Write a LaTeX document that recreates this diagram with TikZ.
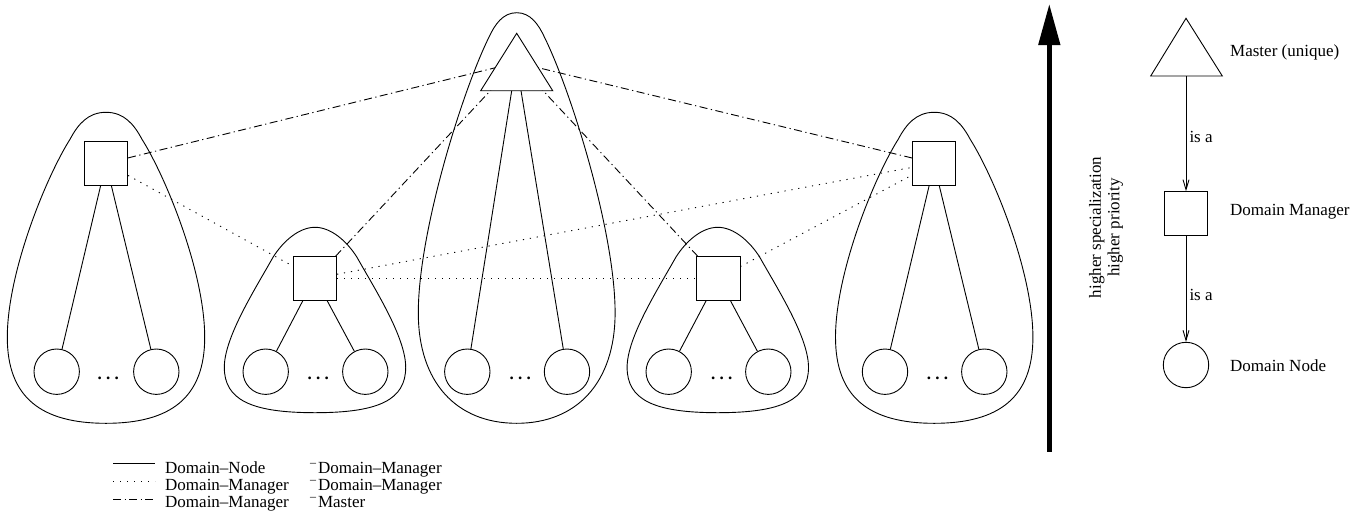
\documentclass[tikz,border=0pt]{standalone}
\usepackage{fontspec}
\setmainfont{Liberation Serif}
\usetikzlibrary{arrows.meta}
\newcommand\rdash{\raisebox{7pt}{\fontsize{12}{12}\selectfont --}\kern1.8pt}
\newcommand\tallblob[2]{\draw[ln,shift={(#1,#2)}] (0,0) .. controls (-18,0) and (-28,12) .. (-36,27) .. controls (-60,65) and (-98.7,160) .. (-98.7,225) .. controls (-98.7,285) and (-65,311) .. (0,311) .. controls (65,311) and (98.7,285) .. (98.7,225) .. controls (98.7,160) and (60,65) .. (36,27) .. controls (28,12) and (18,0) .. cycle;}
\newcommand\smallblob[2]{\draw[ln,shift={(#1,#2)}] (0,0) .. controls (-16,0) and (-32,14) .. (-42,30) .. controls (-60,62) and (-90.7,110) .. (-90.7,140) .. controls (-90.7,172) and (-65,185.4) .. (0,185.4) .. controls (65,185.4) and (90.7,172) .. (90.7,140) .. controls (90.7,110) and (60,62) .. (42,30) .. controls (32,14) and (16,0) .. cycle;}
\newcommand\masterblob[2]{\draw[ln,shift={(#1,#2)}] (0,0) .. controls (-14,0) and (-22,12) .. (-28,25) .. controls (-55,80) and (-98.4,220) .. (-98.4,300) .. controls (-98.4,370) and (-60,410.6) .. (0,410.6) .. controls (60,410.6) and (98.4,370) .. (98.4,300) .. controls (98.4,220) and (55,80) .. (28,25) .. controls (22,12) and (14,0) .. cycle;}
\tikzset{
  ln/.style={line width=0.9pt},
  mgr/.style={draw, ln, minimum size=43.3pt, inner sep=0pt},
  dnode/.style={draw, ln, circle, minimum size=45.4pt, inner sep=0pt},
  dmdm/.style={ln, dash pattern=on 1.2pt off 5.8pt},
  dmm/.style={ln, dash pattern=on 8pt off 3.5pt on 1.2pt off 3.5pt},
  isa/.style={ln, -{Straight Barb[length=10pt,width=6pt]}},
  lbl/.style={anchor=base west, inner sep=0pt, font=\fontsize{17}{20}\selectfont},
  dots/.style={anchor=base, inner sep=0pt, font=\fontsize{17}{20}\selectfont\bfseries},
}
\begin{document}
\begin{tikzpicture}[x=1pt,y=-1pt]
\useasboundingbox (0,0) rectangle (1365,522);

% blobs
\tallblob{106}{112.3}
\smallblob{315}{227.3}
\masterblob{516.7}{12.7}
\smallblob{717.8}{227.3}
\tallblob{934.2}{112.3}

% managers
\node[mgr] (s1) at (106,163.3) {};
\node[mgr] (s2) at (315,278.3) {};
\node[mgr] (s4) at (718.3,278.3) {};
\node[mgr] (s5) at (934.2,163.3) {};

% domain nodes
\node[dnode] (c1a) at (56.7,371.7) {};
\node[dnode] (c1b) at (156.3,371.7) {};
\node[dnode] (c2a) at (265.7,371.7) {};
\node[dnode] (c2b) at (365.3,371.7) {};
\node[dnode] (c3a) at (467.3,371.7) {};
\node[dnode] (c3b) at (567,371.7) {};
\node[dnode] (c4a) at (668.7,371.7) {};
\node[dnode] (c4b) at (768.3,371.7) {};
\node[dnode] (c5a) at (885,371.7) {};
\node[dnode] (c5b) at (984.3,371.7) {};

\node[dots] (d1) at (108.3,379) {.\ .\ .};
\node[dots] (d2) at (318.3,379) {.\ .\ .};
\node[dots] (d3) at (520.3,379) {.\ .\ .};
\node[dots] (d4) at (721.7,379) {.\ .\ .};
\node[dots] (d5) at (937.5,379) {.\ .\ .};

% solid domain-node links
\draw[ln] ([xshift=-5.3pt]s1.south) -- (c1a);
\draw[ln] ([xshift=5.3pt]s1.south) -- (c1b);
\draw[ln] ([xshift=-12pt]s2.south) -- (c2a);
\draw[ln] ([xshift=12pt]s2.south) -- (c2b);
\draw[ln] ([xshift=-12pt]s4.south) -- (c4a);
\draw[ln] ([xshift=12pt]s4.south) -- (c4b);
\draw[ln] ([xshift=-5pt]s5.south) -- (c5a);
\draw[ln] ([xshift=5pt]s5.south) -- (c5b);

% master
\coordinate (m) at (516.7,62.5);
\coordinate (mb1) at (511.7,90.7);
\coordinate (mb2) at (521,90.7);
\draw[ln] (mb1) -- (c3a);
\draw[ln] (mb2) -- (c3b);

% manager - master
\draw[dmm] (s1) -- (m);
\draw[dmm] (s2) -- (m);
\draw[dmm] (s4) -- (m);
\draw[dmm] (s5) -- (m);

% manager - manager
\draw[dmdm] (s1) -- (s2);
\draw[dmdm] (s2) -- (s4);
\draw[dmdm] (s2) -- (s5);
\draw[dmdm] (s4) -- (s5);

% master triangle on top
\draw[ln, fill=white] (516.7,33.3) coordinate (mt) -- (552.7,90.7) coordinate (mr) -- (480.7,90.7) coordinate (ml) -- cycle;

% big arrow
\coordinate (ab) at (1049.3,451.7);
\coordinate (at) at (1049.3,4);
\draw[line width=4.7pt, -{Triangle[length=41pt,width=21pt]}] (ab) -- (at);
\node[rotate=90, align=center, inner sep=0pt, font=\fontsize{17}{18.5}\selectfont] (prio) at (1106,227.5) {higher specialization\\higher priority};

% legend right
\draw[ln] (1186,18.3) coordinate (lta) -- (1222.3,76) coordinate (ltr) -- (1150.7,76) coordinate (ltl) -- cycle;
\coordinate (ltb) at (1186,76);
\node[mgr] (ls) at (1186,213.3) {};
\node[dnode] (lc) at (1186,365) {};
\draw[isa] (ltb) -- (ls);
\draw[isa] (ls) -- (lc);
\node[lbl] (tmaster) at (1230,56) {Master (unique)};
\node[lbl] (tdm) at (1230,215) {Domain Manager};
\node[lbl] (tdn) at (1230,371) {Domain Node};
\node[lbl] (isa1) at (1189.3,142.3) {is a};
\node[lbl] (isa2) at (1189.3,300) {is a};

% legend bottom
\coordinate (l1a) at (113,463.5); \coordinate (l1b) at (155,463.5);
\coordinate (l2a) at (113,481.5); \coordinate (l2b) at (155,481.5);
\coordinate (l3a) at (113,499.5); \coordinate (l3b) at (155,499.5);
\draw[ln] (l1a) -- (l1b);
\draw[dmdm] (l2a) -- (l2b);
\draw[dmm] (l3a) -- (l3b);
\node[lbl] (lg1) at (165,473) {Domain--Node};
\node[lbl] (lg2) at (165,490) {Domain--Manager};
\node[lbl] (lg3) at (165,507) {Domain--Manager};
\node[lbl] (lg4) at (310,473) {\rdash Domain--Manager};
\node[lbl] (lg5) at (310,490) {\rdash Domain--Manager};
\node[lbl] (lg6) at (310,507) {\rdash Master};
\end{tikzpicture}
\end{document}
